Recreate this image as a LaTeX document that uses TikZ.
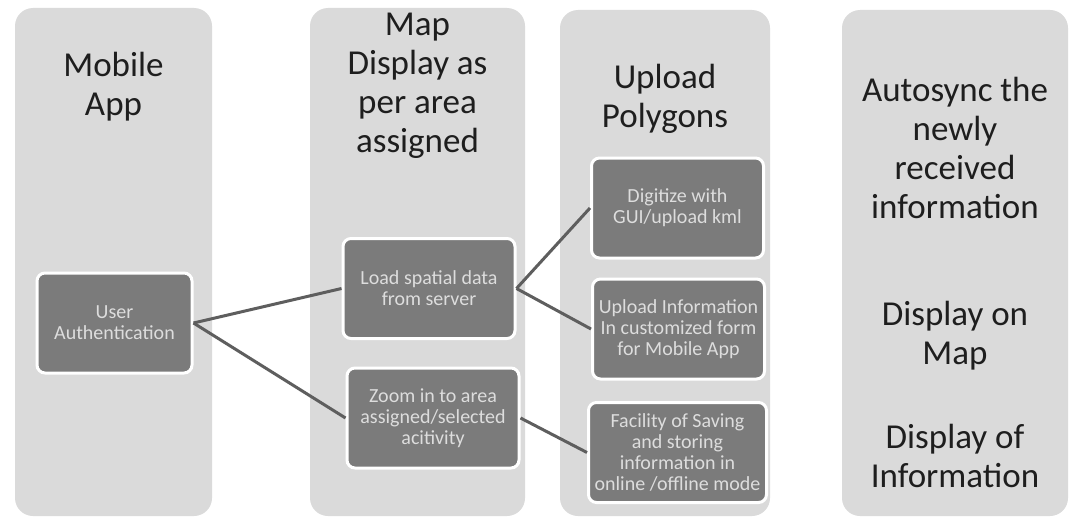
\documentclass[tikz,border=0pt]{standalone}
\usepackage{fontspec}
\setmainfont{Carlito}
\definecolor{colfill}{HTML}{DADADA}
\definecolor{boxfill}{HTML}{7B7B7B}
\definecolor{boxtext}{HTML}{DDDDDD}
\definecolor{linkgray}{HTML}{5E5E5E}
\definecolor{titletext}{HTML}{1E1E1E}
\tikzset{
  title/.style={anchor=north, align=center, inner sep=0pt, text=titletext,
    font=\fontsize{35}{39}\selectfont},
  task/.style={draw=white, line width=3pt, fill=boxfill, rounded corners=8pt,
    text=boxtext, align=center, inner sep=0pt, minimum width=172pt,
    minimum height=100pt, font=\fontsize{20}{21}\selectfont},
  link/.style={draw=linkgray, line width=3pt}
}
\begin{document}
\begin{tikzpicture}[x=1pt,y=-1pt]
        \useasboundingbox (0,0) rectangle (1071,519);
        % Columns
            \fill[colfill, rounded corners=18pt] (15,8) rectangle (212,516);
            \fill[colfill, rounded corners=18pt] (310,8) rectangle (525,516);
            \fill[colfill, rounded corners=18pt] (560,10) rectangle (770,516);
            \fill[colfill, rounded corners=18pt] (842,10) rectangle (1068,516);
        % Column titles
            \node[title] (mobile) at (113.5,52) {Mobile\\App};
            \node[title] (mapdisp) at (417.5,13) {Map\\Display as\\per area\\assigned};
            \node[title] (polygons) at (665,64) {Upload\\Polygons};
            \node[title] (autosync) at (955,77) {Autosync the\\newly\\received\\information};
            \node[title] (onmap) at (955,301) {Display on\\Map};
            \node[title] (ofinfo) at (955,424) {Display of\\Information};
        % Task boxes
            \node[task, minimum width=155pt] (auth) at (114.5,323) {User\\Authentication};
            \node[task] (load) at (429,288.5) {Load spatial data\\from server};
            \node[task] (zoomin) at (433,418) {Zoom in to area\\assigned/selected\\acitivity};
            \node[task] (digitize) at (677.5,208) {Digitize with\\GUI/upload kml};
            \node[task] (upinfo) at (678.5,329) {Upload Information\\In customized form\\for Mobile App};
            \node[task, minimum width=178pt] (saving) at (677.5,452.5) {Facility of Saving\\and storing\\information in\\online /offline mode};
        % Connectors
            \draw[link] (auth.east) -- (load.west);
            \draw[link] (auth.east) -- (zoomin.west);
            \draw[link] (load.east) -- (digitize.west);
            \draw[link] (load.east) -- (upinfo.west);
            \draw[link] (zoomin.east) -- (saving.west);
        \end{tikzpicture}
\end{document}
